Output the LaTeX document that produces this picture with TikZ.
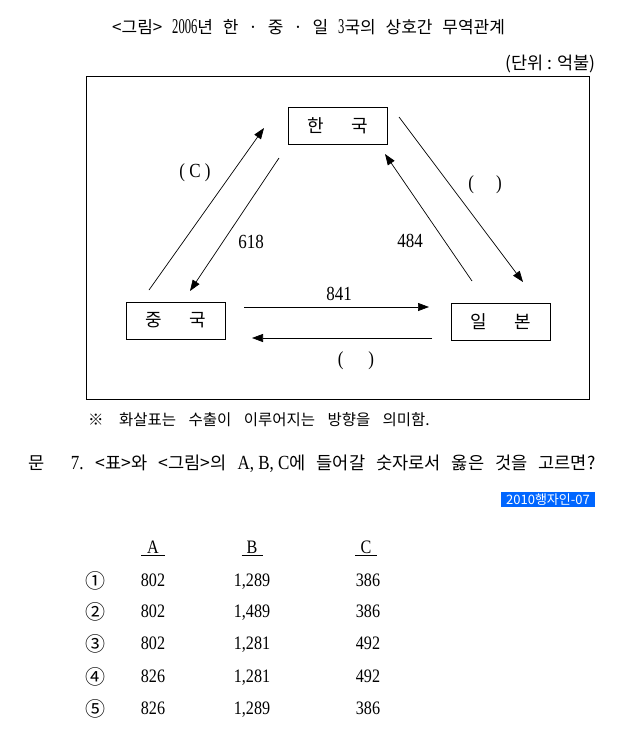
\documentclass[tikz,border=0pt]{standalone}
\usepackage{fontspec}
\setmainfont{Liberation Serif}
\newfontfamily\kr{Noto Sans CJK KR}
\newfontfamily\nf[FakeStretch=0.85]{Liberation Serif}
\newfontfamily\nt[FakeStretch=0.6]{Liberation Serif}
\usetikzlibrary{arrows.meta}
\definecolor{hl}{RGB}{0,102,255}
\newcommand{\widesp}[1]{\spaceskip=#1em plus 0.1em\relax}
\begin{document}
\begin{tikzpicture}[x=1pt,y=-1pt,
  country/.style={draw,line width=0.8pt,minimum width=99pt,minimum height=37pt,inner sep=0pt,font=\kr\fontsize{18}{18}\selectfont},
  flow/.style={line width=0.7pt,-{Triangle[length=11pt,width=8pt]}},
  numlbl/.style={inner sep=0pt,font=\nf\fontsize{20}{20}\selectfont},
  krtext/.style={inner sep=0pt,font=\kr\fontsize{16}{16}\selectfont},
  cell/.style={inner sep=0pt,text height=0.7em,text depth=0.2em,font=\nf\fontsize{19}{19}\selectfont},
  circ/.style={inner sep=0pt,font=\kr\fontsize{20}{20}\selectfont},
]
\useasboundingbox[fill=white] (0,0) rectangle (624,750);

\node[krtext,anchor=west,font=\kr\fontsize{17}{17}\selectfont\widesp{0.58}] (title) at (112,27) {<그림> {\nt\fontsize{21}{21}\selectfont 2006}년 한 · 중 · 일 {\nt\fontsize{21}{21}\selectfont 3}국의 상호간 무역관계};
\node[krtext,anchor=east,font=\kr\fontsize{17.5}{17.5}\selectfont] (unit) at (596,64) {(단위 : 억불)};

\draw[line width=0.9pt] (86,76) rectangle (589,399);

\node[country] (ko) at (337.5,125.5) {한\hspace{1.5em}국};
\node[country] (cn) at (176,320.5) {중\hspace{1.5em}국};
\node[country] (jp) at (500.5,321.5) {일\hspace{1.5em}본};

\coordinate (cnA) at (149,290); \coordinate (koA) at (264,128);
\coordinate (koB) at (279,158); \coordinate (cnB) at (190,291);
\coordinate (koC) at (399,117); \coordinate (jpC) at (523,282);
\coordinate (jpD) at (472,281); \coordinate (koD) at (385,154);
\coordinate (cnE) at (244,307); \coordinate (jpE) at (429,307);
\coordinate (jpF) at (432,338); \coordinate (cnF) at (252,338);

\draw[flow] (cnA) -- (koA);
\draw[flow] (koB) -- (cnB);
\draw[flow] (koC) -- (jpC);
\draw[flow] (jpD) -- (koD);
\draw[flow] (cnE) -- (jpE);
\draw[flow] (jpF) -- (cnF);

\node[numlbl] (lC) at (195,173) {( C )};
\node[numlbl] (l618) at (251,242) {618};
\node[numlbl] (l484) at (410,241) {484};
\node[numlbl] (lKJ) at (485,185) {(\hspace{22pt})};
\node[numlbl] (l841) at (339,294) {841};
\node[numlbl] (lJC) at (356,361) {(\hspace{25pt})};

\node[krtext,anchor=west,font=\kr\fontsize{15.5}{15.5}\selectfont\widesp{0.8}] (note) at (88,420) {※\hspace{1em}화살표는 수출이 이루어지는 방향을 의미함.};

\node[krtext,anchor=west,font=\kr\fontsize{17.6}{17.6}\selectfont\widesp{0.62}] (q) at (28,464) {문\hspace{1.5em}{\nf\fontsize{20}{20}\selectfont 7.} <표>와 <그림>의 {\nf\fontsize{20}{20}\selectfont\spaceskip=0pt A, B, C}에 들어갈 숫자로서 옳은 것을 고르면?};

\node[fill=hl,text=white,minimum width=94pt,minimum height=15pt,inner sep=0pt,font=\kr\fontsize{13}{13}\selectfont] (src) at (548,499.5) {2010행자인-07};

\node[cell] (hA) at (153,551) {\underline{\makebox[24pt]{A}}};
\node[cell] (hB) at (252,551) {\underline{\makebox[21pt]{B}}};
\node[cell] (hC) at (366,551) {\underline{\makebox[22pt]{C}}};

\foreach \y/\n/\a/\b/\c [count=\i] in {581/①/802/{1,289}/386, 612/②/802/{1,489}/386, 644/③/802/{1,281}/492, 677/④/826/{1,281}/492, 709/⑤/826/{1,289}/386}{
  \node[circ] (n\i) at (95,\y) {\n};
  \node[cell] (a\i) at (153,\y+3) {\a};
  \node[cell] (b\i) at (252,\y+3) {\b};
  \node[cell] (c\i) at (368,\y+3) {\c};
}
\end{tikzpicture}
\end{document}
